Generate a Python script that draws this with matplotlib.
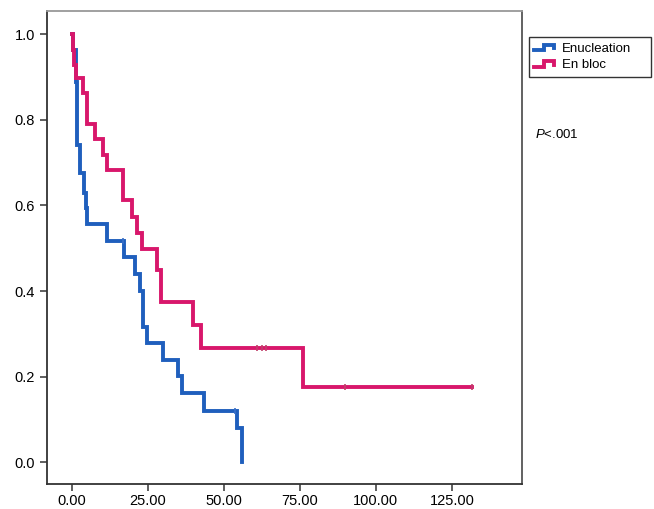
import matplotlib
matplotlib.use("Agg")
import matplotlib.pyplot as plt
from matplotlib.legend_handler import HandlerBase
from matplotlib.lines import Line2D

plt.rcParams['font.family'] = ['Liberation Sans', 'DejaVu Sans']
plt.rcParams['mathtext.fontset'] = 'custom'
plt.rcParams['mathtext.it'] = 'Liberation Sans:italic'
plt.rcParams['mathtext.rm'] = 'Liberation Sans'

# ---- data ----
enu_time = [0, 0.4, 1.3, 1.8, 2.7, 4.0, 4.6, 5.0, 11.5, 17.3, 20.8, 22.5,
            23.4, 24.7, 29.9, 35.1, 36.2, 43.5, 54.3, 55.9]
enu_surv = [1.0, 0.963, 0.889, 0.741, 0.676, 0.629, 0.593, 0.556, 0.517, 0.479,
            0.440, 0.400, 0.316, 0.278, 0.240, 0.201, 0.161, 0.120, 0.079, 0.0]
enu_cens_time = [16.8, 53.8]
enu_cens_surv = [0.517, 0.120]

blo_time = [0, 0.3, 0.8, 1.4, 3.8, 5.1, 7.7, 10.4, 11.6, 17.0, 19.8, 21.4,
            23.0, 28.0, 29.3, 40.0, 42.4, 76.2, 131.6]
blo_surv = [1.0, 0.964, 0.929, 0.898, 0.863, 0.790, 0.755, 0.718, 0.684, 0.613,
            0.574, 0.535, 0.498, 0.449, 0.375, 0.320, 0.266, 0.176, 0.176]
blo_cens_time = [61.0, 62.5, 64.0, 90.0, 131.6]
blo_cens_surv = [0.266, 0.266, 0.266, 0.176, 0.176]

x_ticks = [0, 25, 50, 75, 100, 125]
y_ticks = [0.0, 0.2, 0.4, 0.6, 0.8, 1.0]
labels = ["Enucleation", "En bloc"]

BLUE = '#1f5fbd'
PINK = '#d8176b'
LW = 2.8

fig = plt.figure(figsize=(6.54, 5.09), dpi=100)
ax = fig.add_axes([0.0723, 0.049, 0.7257, 0.929])

ax.step(enu_time, enu_surv, where='post', color=BLUE, lw=LW, solid_joinstyle='miter')
ax.plot(enu_cens_time, enu_cens_surv, ls='none', marker='|', ms=5, mew=1.2, color='#3a70c8')
ax.step(blo_time, blo_surv, where='post', color=PINK, lw=LW, solid_joinstyle='miter')
ax.plot(blo_cens_time, blo_cens_surv, ls='none', marker='|', ms=5, mew=1.2, color='#c0406a')

ax.set_xlim(-8, 148)
ax.set_ylim(-0.051, 1.054)
ax.set_xticks(x_ticks)
ax.set_xticklabels([f"{v:.2f}" for v in x_ticks])
ax.set_yticks(y_ticks)
ax.set_yticklabels([f"{v:.1f}" for v in y_ticks])
ax.tick_params(direction='out', length=5, width=1.1, color='#333333', labelsize=10.5)
ax.tick_params(axis='x', pad=2.5)
ax.tick_params(axis='y', pad=4)

for s in ['left', 'bottom']:
    ax.spines[s].set_color('#333333')
    ax.spines[s].set_linewidth(1.3)
ax.spines['right'].set_color('#555555')
ax.spines['right'].set_linewidth(1.3)
ax.spines['top'].set_color('#999999')
ax.spines['top'].set_linewidth(1.3)


class StepHandler(HandlerBase):
    def create_artists(self, legend, orig_handle, xdescent, ydescent, width, height, fontsize, trans):
        x0 = -xdescent
        xs = [x0, x0 + width * 0.45, x0 + width * 0.45, x0 + width * 0.9, x0 + width * 0.9]
        ys = [height * 0.15, height * 0.15, height * 0.75, height * 0.75, height * 0.35]
        ys = [y - ydescent for y in ys]
        ln = Line2D(xs, ys, color=orig_handle.get_color(), lw=LW, solid_joinstyle='miter')
        ln.set_transform(trans)
        return [ln]


h1 = Line2D([], [], color=BLUE)
h2 = Line2D([], [], color=PINK)
lx0, lx1 = 529 / 654, 651 / 654
ly_top = 1 - 37 / 509
leg = fig.legend([h1, h2], labels, handler_map={Line2D: StepHandler()},
                 loc='upper left', bbox_to_anchor=(lx0, ly_top - 0.1, lx1 - lx0, 0.1),
                 mode='expand',
                 fontsize=9.5, frameon=True, fancybox=False, handlelength=1.65,
                 handletextpad=0.45, borderpad=0.4, labelspacing=0.35, borderaxespad=0)
leg.get_frame().set_edgecolor('black')
leg.get_frame().set_linewidth(1.0)

fig.text(535 / 654, 1 - 135 / 509, r"$P$<.001", fontsize=9.5, va='center', ha='left')

fig.savefig('out.png', dpi=100)
